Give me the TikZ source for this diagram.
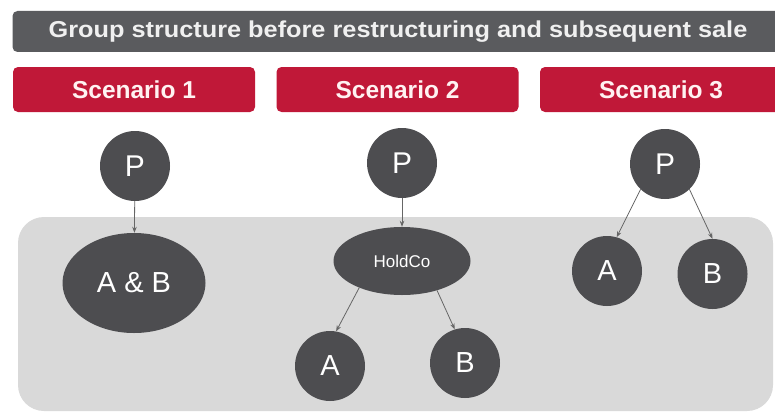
\documentclass[tikz,border=0pt]{standalone}
\usepackage{fontspec}
\setmainfont{Liberation Sans}
\usetikzlibrary{arrows.meta,shapes.geometric}

\definecolor{barGrey}{HTML}{5A5B5E}
\definecolor{scenRed}{HTML}{C01838}
\definecolor{panelGrey}{HTML}{D9D9D9}
\definecolor{entityGrey}{HTML}{4D4D50}
\definecolor{linkGrey}{HTML}{666666}

\tikzset{
  titlebar/.style={fill=barGrey, rounded corners=5pt, minimum width=771pt,
    minimum height=41pt, inner sep=0pt, text=white!94!black,
    font=\bfseries\fontsize{23}{23}\selectfont},
  scenbox/.style={fill=scenRed, rounded corners=5pt, minimum width=242pt,
    minimum height=45pt, inner sep=0pt, text=white!95!red,
    font=\bfseries\fontsize{24.5}{24.5}\selectfont},
  entity/.style={circle, fill=entityGrey, minimum size=70pt, inner sep=0pt,
    text=white, font=\fontsize{29}{29}\selectfont},
  parent/.style={entity, font=\fontsize{30}{30}\selectfont},
  combined/.style={ellipse, fill=entityGrey, minimum width=143pt,
    minimum height=100pt, inner sep=0pt, text=white,
    font=\fontsize{29}{29}\selectfont},
  holding/.style={ellipse, fill=entityGrey, minimum width=137pt,
    minimum height=68pt, inner sep=0pt, text=white,
    font=\fontsize{17}{17}\selectfont},
  owns/.style={draw=linkGrey, line width=0.8pt,
    -{Stealth[length=6pt,width=4.5pt]}},
}

\begin{document}
\begin{tikzpicture}[x=1pt,y=-1pt]
\useasboundingbox (0,0) rectangle (775,412);
\fill[white] (0,0) rectangle (775,412);

% shaded area holding the subsidiaries
\fill[panelGrey, rounded corners=26pt] (18,217) rectangle (773,411);

% headings
\node[titlebar] (title) at (398,31.5)
  {\scalebox{1.1}[1]{Group structure before restructuring and subsequent sale}};
\node[scenbox] (s1) at (134,89.5) {Scenario 1};
\node[scenbox] (s2) at (397.5,89.5) {Scenario 2};
\node[scenbox] (s3) at (661,89.5) {Scenario 3};

% Scenario 1: one company holding both businesses
\node[parent] (p1) at (135,166) {P};
\node[combined] (ab) at (134,283) {A \& B};
\draw[owns] (p1) -- (ab);

% Scenario 2: businesses under an intermediate holding company
\node[parent] (p2) at (402,163) {P};
\node[holding] (hc) at (402,261) {HoldCo};
\node[entity] (a2) at (330,366) {A};
\node[entity] (b2) at (465,363) {B};
\draw[owns] (p2) -- (hc);
\draw[owns] (hc.212) -- (a2.80);
\draw[owns] (hc.320) -- (b2.107);

% Scenario 3: businesses held directly by P
\node[parent] (p3) at (665,164) {P};
\node[entity] (a3) at (607,271) {A};
\node[entity] (b3) at (712.5,274) {B};
\draw[owns] (p3.226) -- (a3.74);
\draw[owns] (p3.314) -- (b3.north);
\end{tikzpicture}
\end{document}
